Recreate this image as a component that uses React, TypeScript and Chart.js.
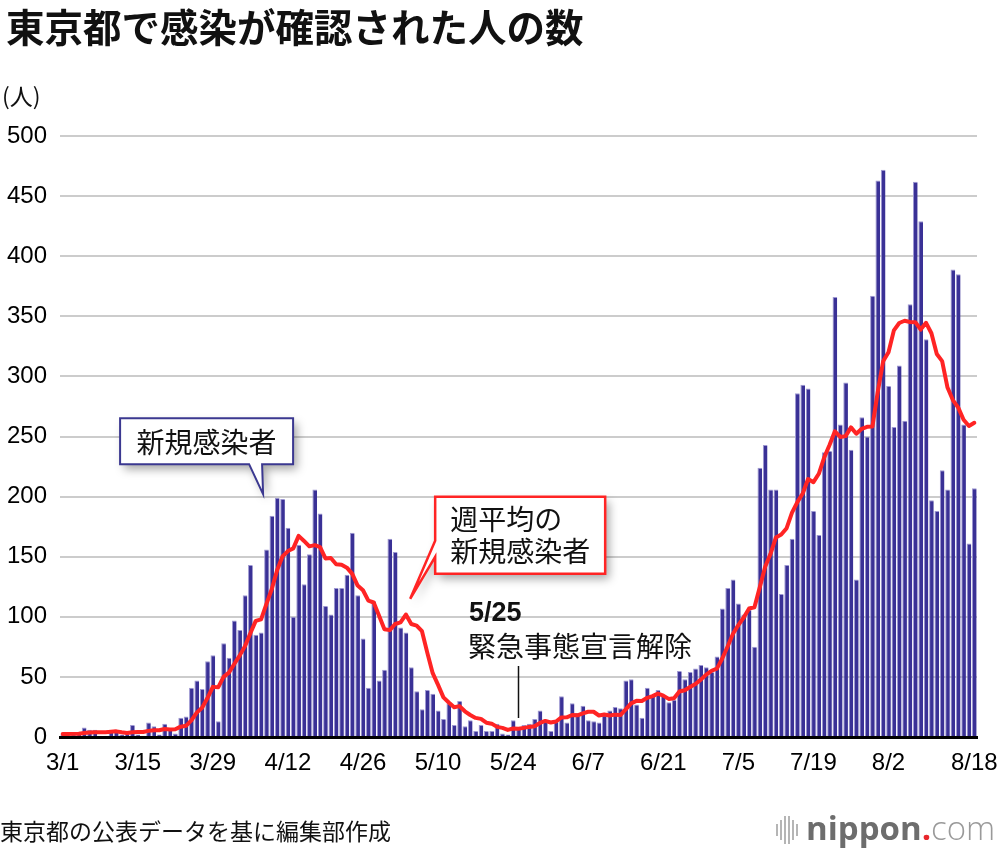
import React, { useEffect, useRef } from 'react';
import { Chart, registerables } from 'chart.js';

Chart.register(...registerables);

// ---- data (Tokyo, daily confirmed cases, 2020) ----
const months = [3, 4, 5, 6, 7, 8];

const marchCases = [2, 1, 2, 3, 8, 6, 6, 1, 1, 5, 6, 2, 3, 10, 2, 1, 12, 9, 2, 11, 7, 3, 16, 17, 41, 47, 40, 63, 68, 13, 78];
const aprilCases = [66, 97, 89, 118, 143, 85, 87, 156, 184, 199, 198, 174, 100, 160, 127, 152, 206, 186, 109, 102, 124, 124, 135, 170, 118, 82, 41, 113, 47, 56];
const mayCases = [165, 154, 91, 87, 58, 38, 23, 39, 36, 22, 15, 28, 10, 30, 9, 14, 5, 10, 5, 5, 11, 3, 2, 14, 8, 10, 11, 15, 22, 14, 5];
const juneCases = [13, 34, 12, 28, 20, 26, 14, 13, 12, 18, 22, 25, 24, 47, 48, 27, 16, 41, 35, 39, 35, 29, 31, 55, 48, 54, 57, 60, 58, 54];
const julyCases = [67, 107, 124, 131, 111, 102, 106, 75, 224, 243, 206, 206, 119, 143, 165, 286, 293, 290, 188, 168, 237, 238, 366, 260, 295, 239, 131, 266, 250, 367, 463];
const augustCases = [472, 292, 258, 309, 263, 360, 462, 429, 331, 197, 188, 222, 206, 389, 385, 260, 161, 207];

// weekly average of new cases (red line)
const marchAvg = [2.4, 2.4, 2.6, 2.7, 3.3, 3.7, 4.0, 3.9, 3.9, 4.3, 4.7, 3.9, 3.4, 4.0, 4.1, 4.1, 5.1, 5.6, 5.6, 6.7, 6.3, 6.4, 8.6, 9.3, 13.9, 20.3, 24.4, 32.4, 41.7, 41.3, 50.0];
const aprilAvg = [53.6, 60.7, 67.7, 75.6, 86.3, 96.6, 97.9, 110.7, 123.1, 138.9, 150.3, 154.7, 156.9, 167.3, 163.1, 158.6, 159.6, 157.9, 148.6, 148.9, 143.7, 143.3, 140.9, 135.7, 126.0, 122.1, 113.4, 111.9, 100.9, 89.6];
const mayAvg = [88.9, 94.0, 95.3, 101.9, 94.0, 92.7, 88.0, 70.0, 53.1, 43.3, 33.0, 28.7, 24.7, 25.7, 21.4, 18.3, 15.9, 15.1, 11.9, 11.1, 8.4, 7.6, 5.9, 7.1, 6.9, 7.6, 8.4, 9.0, 11.7, 13.4, 12.1];
const juneAvg = [12.9, 16.3, 16.4, 18.3, 18.0, 19.7, 21.0, 21.0, 17.9, 18.7, 17.9, 18.6, 18.3, 23.0, 28.0, 30.1, 29.9, 32.6, 34.0, 36.1, 34.4, 31.7, 32.3, 37.9, 38.9, 41.6, 44.1, 47.7, 51.9, 55.1];
const julyAvg = [56.9, 65.3, 75.3, 85.9, 93.1, 99.4, 106.9, 108.0, 124.7, 141.7, 152.4, 166.0, 168.4, 173.7, 186.6, 195.4, 202.6, 214.6, 212.0, 219.0, 232.4, 242.9, 254.3, 249.6, 250.3, 257.6, 252.3, 256.4, 258.1, 258.3, 287.3];
const augustAvg = [312.6, 320.1, 338.3, 344.4, 346.3, 345.3, 345.1, 339.0, 344.6, 335.9, 318.6, 312.7, 290.7, 280.3, 274.0, 263.9, 258.7, 261.4];

const tickLabels = ['3/1', '3/15', '3/29', '4/12', '4/26', '5/10', '5/24', '6/7', '6/21', '7/5', '7/19', '8/2', '8/18'];

const monthCases = [marchCases, aprilCases, mayCases, juneCases, julyCases, augustCases];
const monthAvg = [marchAvg, aprilAvg, mayAvg, juneAvg, julyAvg, augustAvg];

const categories: string[] = [];
monthCases.forEach((arr, k) => arr.forEach((_, d) => categories.push(`${months[k]}/${d + 1}`)));
const dailyCases = monthCases.flat();
const weeklyAvg = monthAvg.flat();

const JP = '"Noto Sans CJK JP", "Noto Sans", sans-serif';
const NUM = '"Liberation Sans", Arial, sans-serif';

const BAR = '#3a3196';
const RED = '#ff2424';
const NAVY = '#3b3890';

function drawCallout(ctx: CanvasRenderingContext2D, pts: number[][], stroke: string, lw: number) {
  ctx.save();
  ctx.beginPath();
  pts.forEach(([x, y], i) => (i ? ctx.lineTo(x, y) : ctx.moveTo(x, y)));
  ctx.closePath();
  ctx.shadowColor = 'rgba(0,0,0,0.35)';
  ctx.shadowBlur = 10;
  ctx.shadowOffsetX = 4;
  ctx.shadowOffsetY = 5;
  ctx.fillStyle = '#ffffff';
  ctx.fill();
  ctx.shadowColor = 'rgba(0,0,0,0)';
  ctx.lineWidth = lw;
  ctx.strokeStyle = stroke;
  ctx.lineJoin = 'miter';
  ctx.stroke();
  ctx.restore();
}

const annotationPlugin = {
  id: 'annotations',
  afterDraw(chart: any) {
    const ctx: CanvasRenderingContext2D = chart.ctx;
    const xs = chart.scales.x;
    const ys = chart.scales.y;

    // callout for bars
    const t1x = xs.getPixelForValue(37) + 2;
    const t1y = ys.getPixelForValue(202);
    const L1 = t1x - 143, R1 = t1x + 30, T1 = t1y - 76, B1 = t1y - 30;
    drawCallout(ctx, [[L1, T1], [R1, T1], [R1, B1], [t1x - 1, B1], [t1x, t1y], [t1x - 14, B1], [L1, B1]], NAVY, 2);
    ctx.save();
    ctx.fillStyle = '#111';
    ctx.font = `28px ${JP}`;
    ctx.textAlign = 'center';
    ctx.textBaseline = 'middle';
    ctx.fillText('新規感染者', (L1 + R1) / 2, (T1 + B1) / 2 + 1);
    ctx.restore();

    // callout for weekly average line
    const t2x = xs.getPixelForValue(64.8);
    const t2y = ys.getPixelForValue(115);
    const L2 = t2x + 25, R2 = t2x + 195, T2 = t2y - 102, B2 = t2y - 25;
    drawCallout(ctx, [[L2, T2], [R2, T2], [R2, B2], [L2, B2], [L2, t2y - 42], [t2x, t2y], [L2, t2y - 58]], RED, 2.5);
    ctx.save();
    ctx.fillStyle = '#111';
    ctx.font = `28px ${JP}`;
    ctx.textAlign = 'left';
    ctx.textBaseline = 'middle';
    ctx.fillText('週平均の', L2 + 15, T2 + 23);
    ctx.fillText('新規感染者', L2 + 15, T2 + 55);
    ctx.restore();

    // 5/25 marker
    const lx = xs.getPixelForValue(85);
    ctx.save();
    ctx.strokeStyle = '#111';
    ctx.lineWidth = 1.5;
    ctx.beginPath();
    ctx.moveTo(lx, 666);
    ctx.lineTo(lx, 718);
    ctx.stroke();
    ctx.fillStyle = '#111';
    ctx.textAlign = 'left';
    ctx.textBaseline = 'middle';
    ctx.font = `bold 27px ${NUM}`;
    ctx.fillText('5/25', 469, 614);
    ctx.font = `28px ${JP}`;
    ctx.fillText('緊急事態宣言解除', 468, 646);
    ctx.restore();
  },
};

export default function App() {
  const ref = useRef<HTMLCanvasElement | null>(null);

  useEffect(() => {
    document.body.style.margin = '0';
    if (!ref.current) return;
    const chart = new Chart(ref.current, {
      type: 'bar',
      data: {
        labels: categories,
        datasets: [
          {
            type: 'line',
            label: '週平均',
            data: weeklyAvg,
            borderColor: RED,
            borderWidth: 4,
            pointRadius: 0,
            tension: 0,
            borderJoinStyle: 'round',
            borderCapStyle: 'round',
            order: 0,
          } as any,
          {
            type: 'bar',
            label: '新規感染者',
            data: dailyCases,
            backgroundColor: BAR,
            borderColor: '#9e98d2',
            borderWidth: { left: 1, top: 1, right: 0, bottom: 0 },
            borderSkipped: false,
            barPercentage: 0.87,
            categoryPercentage: 1,
            order: 1,
          } as any,
        ],
      },
      options: {
        responsive: false,
        animation: false,
        events: [],
        layout: { padding: { left: 0, right: 23, top: 136, bottom: 0 } },
        plugins: { legend: { display: false }, tooltip: { enabled: false }, title: { display: false } },
        scales: {
          x: {
            offset: true,
            grid: { display: false, drawTicks: false },
            border: { display: true, color: '#000', width: 3 },
            ticks: {
              autoSkip: false,
              maxRotation: 0,
              minRotation: 0,
              padding: 12,
              color: '#000',
              font: { family: NUM, size: 24 },
              callback: (_v: any, i: number) => (tickLabels.includes(categories[i]) ? categories[i] : ''),
            },
            afterFit: (s: any) => {
              s.height = 115;
              s.paddingLeft = 0;
              s.paddingRight = 0;
            },
          },
          y: {
            min: 0,
            max: 500,
            grid: { color: '#cccccc', lineWidth: 2, drawTicks: false },
            border: { display: false },
            ticks: { stepSize: 50, padding: 13, color: '#000', font: { family: NUM, size: 24 } },
            afterFit: (s: any) => {
              s.width = 60;
            },
          },
        },
      },
      plugins: [annotationPlugin],
    });
    return () => chart.destroy();
  }, []);

  return (
    <div style={{ position: 'relative', width: 1000, height: 852, background: '#fff', overflow: 'hidden' }}>
      <canvas ref={ref} width={1000} height={852} style={{ position: 'absolute', left: 0, top: 0 }} />
      <div style={{ position: 'absolute', left: 6, top: 3, fontFamily: JP, fontWeight: 700, fontSize: 38.5, lineHeight: '44px', color: '#111', whiteSpace: 'nowrap' }}>
        東京都で感染が確認された人の数
      </div>
      <div style={{ position: 'absolute', left: 2, top: 81, fontFamily: JP, fontSize: 23, lineHeight: '28px', color: '#111' }}>(人)</div>
      <div style={{ position: 'absolute', left: 0, top: 815, fontFamily: JP, fontSize: 23, lineHeight: '30px', color: '#111', whiteSpace: 'nowrap' }}>
        東京都の公表データを基に編集部作成
      </div>
      <div style={{ position: 'absolute', left: 776, top: 812, height: 36, display: 'flex', alignItems: 'center', gap: 2 }}>
        {[12, 20, 28, 28, 20, 12].map((h, i) => (
          <div key={i} style={{ width: 2, height: h, background: '#b5b5b5' }} />
        ))}
      </div>
      <div style={{ position: 'absolute', left: 806, top: 806, fontFamily: '"Open Sans", sans-serif', fontSize: 33, lineHeight: '44px', whiteSpace: 'nowrap' }}>
        <span style={{ color: '#6d6d6d', fontWeight: 700 }}>nippon</span>
        <span style={{ color: '#e8262c', fontWeight: 700 }}>.</span>
        <span style={{ color: '#9a9a9a', fontWeight: 300 }}>com</span>
      </div>
    </div>
  );
}
